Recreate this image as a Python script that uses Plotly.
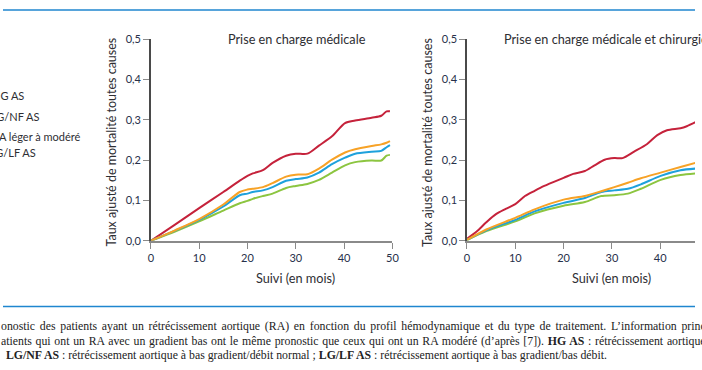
import plotly.graph_objects as go

W, H = 702, 370

# ---------------- data ----------------
series_names = ["HG AS", "LG/NF AS", "RA léger à modéré", "LG/LF AS"]
series_colors = ["#c5223b", "#f7a226", "#1ea1dc", "#8cc540"]

# Left panel: Prise en charge médicale
med_x_red = [0, 5, 10, 15, 18.4, 20, 21.1, 23.2, 25.2, 28, 30, 32.4, 34.8, 37.5, 40.2, 42.3, 45.7, 47.7, 48.8, 49.5]
med_red = [0, 0.040, 0.081, 0.121, 0.149, 0.161, 0.167, 0.175, 0.193, 0.211, 0.216, 0.216, 0.236, 0.259, 0.292, 0.298, 0.305, 0.310, 0.321, 0.321]

med_x = [0, 5, 10, 15, 18.4, 20, 21.1, 23.2, 25.2, 28, 30, 32.4, 34.8, 37.5, 40.2, 42.3, 45.7, 47.7, 48.8, 49.5]
med_orange = [0, 0.026, 0.054, 0.090, 0.121, 0.127, 0.129, 0.133, 0.143, 0.159, 0.164, 0.165, 0.179, 0.201, 0.219, 0.227, 0.235, 0.239, 0.243, 0.247]
med_blue = [0, 0.025, 0.052, 0.085, 0.113, 0.117, 0.121, 0.125, 0.133, 0.149, 0.153, 0.157, 0.169, 0.190, 0.206, 0.216, 0.221, 0.223, 0.232, 0.237]
med_green = [0, 0.023, 0.048, 0.075, 0.093, 0.099, 0.104, 0.111, 0.117, 0.131, 0.136, 0.141, 0.151, 0.169, 0.187, 0.195, 0.199, 0.199, 0.211, 0.213]

# Right panel: Prise en charge médicale et chirurgicale
chir_x_red = [0, 2, 4, 6, 8, 10, 12, 14, 16, 20, 22, 24.4, 26.4, 28.5, 30.5, 32.2, 34.6, 37.3, 39.4, 41.4, 44.2, 45.5, 47.3]
chir_red = [0.005, 0.023, 0.046, 0.066, 0.079, 0.091, 0.111, 0.124, 0.136, 0.156, 0.166, 0.173, 0.187, 0.201, 0.205, 0.205, 0.221, 0.240, 0.262, 0.274, 0.279, 0.284, 0.294]

chir_x = [0, 4, 10, 14, 20, 24.4, 27.8, 30.5, 33.3, 36, 40.1, 44.2, 47.3]
chir_orange = [0.002, 0.028, 0.057, 0.078, 0.102, 0.111, 0.123, 0.133, 0.144, 0.155, 0.169, 0.183, 0.193]
chir_blue = [0.002, 0.026, 0.052, 0.073, 0.094, 0.106, 0.121, 0.125, 0.129, 0.140, 0.161, 0.175, 0.179]
chir_green = [0.002, 0.024, 0.048, 0.068, 0.087, 0.096, 0.111, 0.113, 0.117, 0.129, 0.151, 0.163, 0.167]

x_tickvals = [0, 10, 20, 30, 40, 50]
x_ticktext = ["0", "10", "20", "30", "40", "50"]
y_tickvals = [0, 0.1, 0.2, 0.3, 0.4, 0.5]
y_ticktext = ["0,0", "0,1", "0,2", "0,3", "0,4", "0,5"]

panel_titles = ["Prise en charge médicale", "Prise en charge médicale et chirurgicale"]
x_title = "Suivi (en mois)"
y_title = "Taux ajusté de mortalité toutes causes"

caption_lines = [
    "onostic des patients ayant un rétrécissement aortique (RA) en fonction du profil hémodynamique et du type de traitement. L’information principale",
    "atients qui ont un RA avec un gradient bas ont le même pronostic que ceux qui ont un RA modéré (d’après [7]). <b>HG AS</b> : rétrécissement aortique",
    "<b>LG/NF AS</b> : rétrécissement aortique à bas gradient/débit normal ; <b>LG/LF AS</b> : rétrécissement aortique à bas gradient/bas débit.",
]
caption_word_spacing = [1.8, 0.8, 0]

# ---------------- helpers ----------------
def px(x):
    return x / W

def py(y):
    return 1 - y / H

SANS = "Lato, 'Open Sans', sans-serif"
SERIF = "'Liberation Serif', 'DejaVu Serif', serif"
TXT = "#2e2e33"
TICKTXT = "#27304a"

fig = go.Figure()

left = [(med_x_red, med_red), (med_x, med_orange), (med_x, med_blue), (med_x, med_green)]
right = [(chir_x_red, chir_red), (chir_x, chir_orange), (chir_x, chir_blue), (chir_x, chir_green)]

order = [0, 3, 2, 1]
for i in order:
    xs, ys = left[i]
    fig.add_trace(go.Scatter(x=xs, y=ys, mode="lines", name=series_names[i],
                             line=dict(color=series_colors[i], width=2, shape="spline", smoothing=0.8),
                             xaxis="x", yaxis="y", showlegend=False))
for i in order:
    xs, ys = right[i]
    fig.add_trace(go.Scatter(x=xs, y=ys, mode="lines", name=series_names[i],
                             line=dict(color=series_colors[i], width=2, shape="spline", smoothing=0.8),
                             xaxis="x2", yaxis="y2", showlegend=False))

y0_px, y1_px = 242.3, 33.3
lx0, lx1 = 150.0, 395.0
rx0 = 470.7
unit = (lx1 - lx0) / 50.0
r_max = (W - rx0) / unit

common_x = dict(tickvals=x_tickvals, ticktext=x_ticktext, ticks="outside", ticklen=6,
                tickcolor="#8a8a8a", tickwidth=1.2, showline=True, linecolor="#8a8a8a", linewidth=1.5,
                showgrid=False, zeroline=False, tickfont=dict(family=SANS, size=11, color=TICKTXT),
                fixedrange=True)
common_y = dict(tickvals=y_tickvals, ticktext=y_ticktext, ticks="outside", ticklen=6,
                tickcolor="#8a8a8a", tickwidth=1.2, showline=True, linecolor="#4a4a4a", linewidth=1.5,
                showgrid=False, zeroline=False, tickfont=dict(family=SANS, size=11, color=TICKTXT),
                range=[0, 0.5], fixedrange=True)

fig.update_layout(
    width=W, height=H, autosize=False,
    margin=dict(l=0, r=0, t=0, b=0),
    paper_bgcolor="white", plot_bgcolor="white",
    xaxis=dict(domain=[px(lx0), px(lx1)], range=[0, 50], anchor="y", **common_x),
    yaxis=dict(domain=[py(y0_px), py(y1_px)], anchor="x", **common_y),
    xaxis2=dict(domain=[px(rx0), 1], range=[0, r_max], anchor="y2", **common_x),
    yaxis2=dict(domain=[py(y0_px), py(y1_px)], anchor="x2", **common_y),
)

ann = []
# panel titles
ann.append(dict(x=px(226), y=py(33), xref="paper", yref="paper", xanchor="left", yanchor="middle",
                text=panel_titles[0], showarrow=False, font=dict(family=SANS, size=12.7, color=TXT)))
ann.append(dict(x=px(506), y=py(33), xref="paper", yref="paper", xanchor="left", yanchor="middle",
                text=panel_titles[1], showarrow=False, font=dict(family=SANS, size=12.7, color=TXT)))
# x titles
for cx in (297, 617):
    ann.append(dict(x=px(cx), y=py(280.5), xref="paper", yref="paper", xanchor="center", yanchor="middle",
                    text=x_title, showarrow=False, font=dict(family=SANS, size=12.7, color=TXT)))
# y titles
for cx in (110, 430):
    ann.append(dict(x=px(cx), y=py(140), xref="paper", yref="paper", xanchor="center", yanchor="middle",
                    text=y_title, textangle=-90, showarrow=False, font=dict(family=SANS, size=12.5, color=TXT)))
# legend (cropped at left edge)
legend_right = [21, 38, 79, 34]
legend_y = [91.5, 113.5, 134.5, 150.5]
for name, rx, ly in zip(series_names, legend_right, legend_y):
    ann.append(dict(x=px(rx + 2), y=py(ly), xref="paper", yref="paper", xanchor="right", yanchor="middle",
                    text=name, showarrow=False, font=dict(family=SANS, size=11, color=TXT)))
# caption (justified lines emulated with word spacing)
cap_y = [331, 346.5, 361]
cap_x = [-4, -4, 1]
for t, cy, cx, ws in zip(caption_lines, cap_y, cap_x, caption_word_spacing):
    txt = f'<span style="word-spacing:{ws}px">{t}</span>' if ws else t
    ann.append(dict(x=px(cx), y=py(cy), xref="paper", yref="paper", xanchor="left", yanchor="middle",
                    text=txt, showarrow=False, font=dict(family=SERIF, size=11.8, color="#222")))
fig.update_layout(annotations=ann)

# blue rules
fig.add_shape(type="line", xref="paper", yref="paper", x0=0, x1=1, y0=py(3), y1=py(3),
              line=dict(color="#1f86cf", width=1.5))
fig.add_shape(type="line", xref="paper", yref="paper", x0=0, x1=1, y0=py(310.3), y1=py(310.3),
              line=dict(color="#1f86cf", width=1.5))

fig.write_html("out.html", config=dict(displayModeBar=False),
               post_script="document.body.style.margin='0';document.body.style.overflow='hidden';")
